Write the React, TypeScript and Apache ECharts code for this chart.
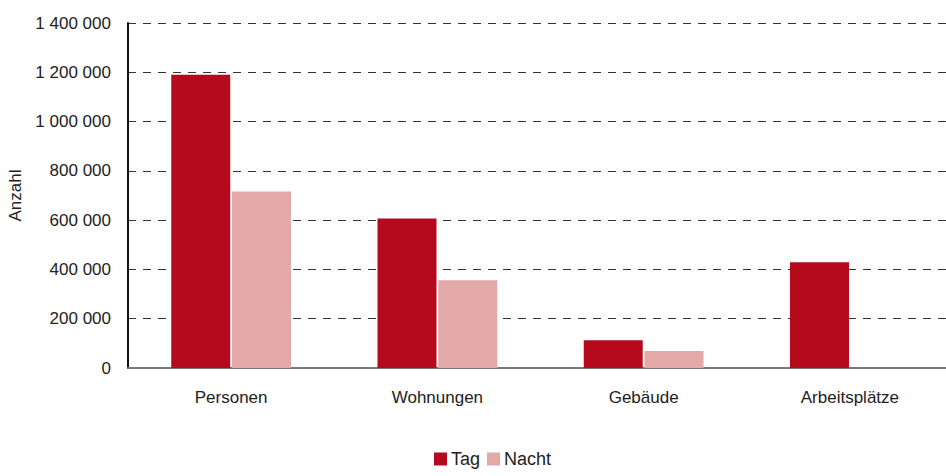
import React, { useEffect, useRef } from "react";
import * as echarts from "echarts";

const categories = ["Personen", "Wohnungen", "Gebäude", "Arbeitsplätze"];
const tagValues = [1190000, 607000, 113000, 429000];
const nachtValues = [716000, 356000, 69000, null];
const seriesNames = ["Tag", "Nacht"];

const FONT = "'Liberation Sans', Arial, sans-serif";

function fmt(v: number): string {
  return String(v).replace(/\B(?=(\d{3})+(?!\d))/g, " ");
}

export default function App() {
  const ref = useRef<HTMLDivElement>(null);
  useEffect(() => {
    if (!ref.current) return;
    const chart = echarts.init(ref.current, null, { renderer: "svg" });
    chart.setOption({
      animation: false,
      textStyle: { fontFamily: FONT },
      grid: { left: 128, width: 825, top: 23, bottom: 108, outerBoundsMode: "none", containLabel: false },
      legend: {
        data: seriesNames,
        bottom: 3,
        left: 429,
        itemWidth: 13,
        itemHeight: 13,
        itemGap: 7,
        icon: "rect",
        textStyle: { fontFamily: FONT, fontSize: 18, color: "#222", padding: [0, 0, 0, -1] },
      },
      xAxis: {
        type: "category",
        data: categories,
        axisLine: { show: true, lineStyle: { color: "#7a7a7a", width: 2 } },
        axisTick: { show: false },
        axisLabel: { fontFamily: FONT, fontSize: 17, color: "#222", margin: 21 },
      },
      yAxis: {
        type: "value",
        min: 0,
        max: 1400000,
        interval: 200000,
        name: "Anzahl",
        nameLocation: "middle",
        nameRotate: 90,
        nameGap: 101,
        nameTextStyle: { fontFamily: FONT, fontSize: 17, color: "#222" },
        axisLine: { show: true, lineStyle: { color: "#111", width: 2 } },
        axisTick: { show: false },
        axisLabel: {
          fontFamily: FONT,
          fontSize: 17,
          color: "#222",
          margin: 17,
          formatter: (v: number) => fmt(v),
        },
        splitLine: {
          show: true,
          lineStyle: { color: "#333", width: 1, type: [8, 7] },
        },
      },
      series: [
        {
          name: seriesNames[0],
          type: "bar",
          data: tagValues,
          barWidth: 59,
          barGap: "3%",
          itemStyle: { color: "#B5091E" },
        },
        {
          name: seriesNames[1],
          type: "bar",
          data: nachtValues,
          barWidth: 59,
          barGap: "3%",
          itemStyle: { color: "#E2A9A8" },
        },
      ],
    });
    return () => chart.dispose();
  }, []);
  return (
    <div
      ref={ref}
      style={{ position: "fixed", left: 0, top: 0, width: 946, height: 476, background: "#fff" }}
    />
  );
}
